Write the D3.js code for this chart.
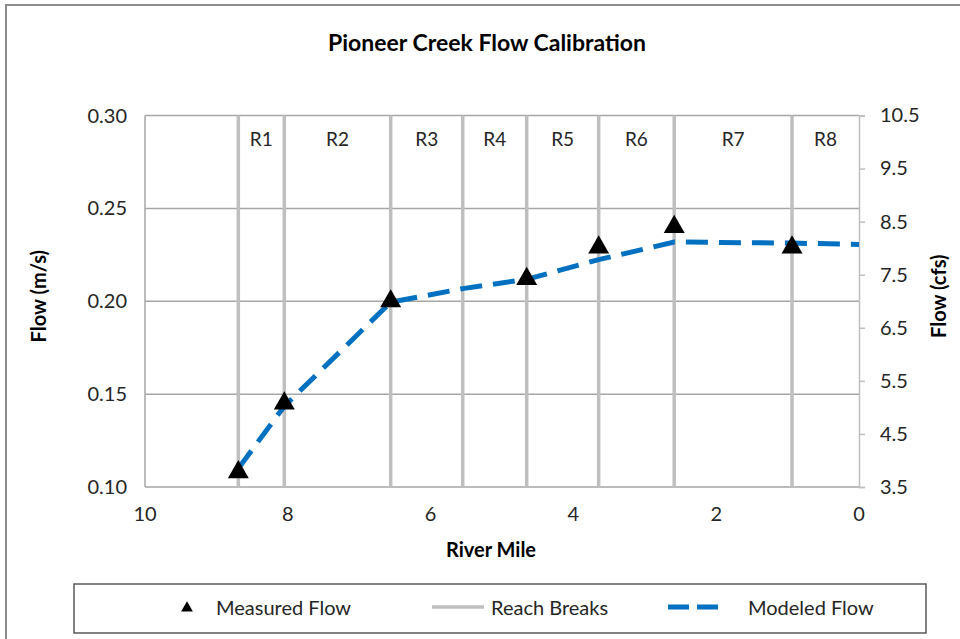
<!DOCTYPE html>
<html>
<head>
<meta charset="utf-8">
<script src="https://cdn.jsdelivr.net/npm/d3@7"></script>
<style>
  body { margin: 0; background: #fff; }
  svg { display: block; }
  text { font-family: Lato, "Open Sans", sans-serif; fill: #262626; }
</style>
</head>
<body>
<svg id="chart" width="960" height="639"></svg>
<script>
// River mile of each reach break
const breakMiles = [8.693, 8.049, 6.559, 5.550, 4.654, 3.646, 2.588, 0.938];
// Reach labels placed between consecutive breaks (last reach runs to mile 0)
const reachNames = ["R1", "R2", "R3", "R4", "R5", "R6", "R7", "R8"];
// Measured flow (m/s) at sampling stations
const measuredMiles = [8.693, 8.049, 6.559, 4.654, 3.646, 2.588, 0.938];
const measuredFlow = [0.108, 0.145, 0.200, 0.212, 0.229, 0.240, 0.229];
// Modeled flow (m/s)
const modeledMiles = [8.693, 8.049, 6.559, 5.550, 4.654, 3.646, 2.588, 0.938, 0];
const modeledFlow = [0.110, 0.1435, 0.1995, 0.2068, 0.2118, 0.2224, 0.2319, 0.2313, 0.2306];
// Axis ticks
const xTicks = [10, 8, 6, 4, 2, 0];
const yTicks = [0.10, 0.15, 0.20, 0.25, 0.30];
const y2Ticks = [3.5, 4.5, 5.5, 6.5, 7.5, 8.5, 9.5, 10.5];

const svg = d3.select("#chart");
const plot = { left: 145, right: 859, top: 115.5, bottom: 487 };

const x = d3.scaleLinear().domain([10, 0]).range([plot.left, plot.right]);
const y = d3.scaleLinear().domain([0.10, 0.30]).range([plot.bottom, plot.top]);
const y2 = d3.scaleLinear().domain([3.5, 10.5]).range([plot.bottom, plot.top]);

// Chart frame (top and left edges visible)
svg.append("line").attr("x1", 5).attr("x2", 960).attr("y1", 5).attr("y2", 5)
  .attr("stroke", "#8c8c8c").attr("stroke-width", 2);
svg.append("line").attr("x1", 6).attr("x2", 6).attr("y1", 4).attr("y2", 639)
  .attr("stroke", "#8c8c8c").attr("stroke-width", 2);

// Title
svg.append("text").attr("x", 487).attr("y", 51).attr("text-anchor", "middle")
  .style("font-size", "23px").style("font-weight", "bold").style("fill", "#000")
  .text("Pioneer Creek Flow Calibration");

// Horizontal gridlines
svg.append("g").selectAll("line").data(yTicks).join("line")
  .attr("x1", plot.left).attr("x2", plot.right)
  .attr("y1", d => y(d)).attr("y2", d => y(d))
  .attr("stroke", "#a6a6a6").attr("stroke-width", 1.5);

// Left plot edge
svg.append("line").attr("x1", plot.left).attr("x2", plot.left)
  .attr("y1", plot.top).attr("y2", plot.bottom)
  .attr("stroke", "#a6a6a6").attr("stroke-width", 1.5);

// Reach break lines
svg.append("g").selectAll("line").data(breakMiles).join("line")
  .attr("x1", d => x(d)).attr("x2", d => x(d))
  .attr("y1", plot.top).attr("y2", plot.bottom)
  .attr("stroke", "#bfbfbf").attr("stroke-width", 3.5);

// Reach labels
const reachBounds = breakMiles.concat([0]);
svg.append("g").selectAll("text").data(reachNames).join("text")
  .attr("x", (d, i) => (x(reachBounds[i]) + x(reachBounds[i + 1])) / 2)
  .attr("y", 146).attr("text-anchor", "middle")
  .style("font-size", "19px").text(d => d);

// Left axis labels
svg.append("g").selectAll("text").data(yTicks).join("text")
  .attr("x", 127).attr("y", d => y(d) + 7).attr("text-anchor", "end")
  .style("font-size", "20px").text(d => d3.format(".2f")(d));

// Right axis with outward ticks
const rightAxis = d3.axisRight(y2).tickValues(y2Ticks).tickSize(6).tickPadding(15)
  .tickFormat(d3.format(".1f"));
const gR = svg.append("g").attr("transform", `translate(${plot.right},0)`).call(rightAxis);
gR.select(".domain").attr("stroke", "#bfbfbf").attr("stroke-width", 1.5);
gR.selectAll(".tick line").attr("stroke", "#bfbfbf").attr("stroke-width", 1.5);
gR.selectAll(".tick text").style("font-size", "20px").style("font-family", "Lato, sans-serif")
  .attr("fill", "#262626");

// Bottom axis labels
svg.append("g").selectAll("text").data(xTicks).join("text")
  .attr("x", d => x(d)).attr("y", 521).attr("text-anchor", "middle")
  .style("font-size", "20px").text(d => d);

// Axis titles
svg.append("text").attr("x", 491).attr("y", 557).attr("text-anchor", "middle")
  .style("font-size", "20px").style("font-weight", "bold").style("fill", "#000")
  .text("River Mile");
svg.append("text").attr("transform", `translate(46,${(plot.top + plot.bottom) / 2 - 5}) rotate(-90)`)
  .attr("text-anchor", "middle")
  .style("font-size", "20px").style("font-weight", "bold").style("fill", "#000")
  .text("Flow (m/s)");
svg.append("text").attr("transform", `translate(946,${(plot.top + plot.bottom) / 2 - 5}) rotate(-90)`)
  .attr("text-anchor", "middle")
  .style("font-size", "20px").style("font-weight", "bold").style("fill", "#000")
  .text("Flow (cfs)");

// Modeled flow dashed line
const modeled = modeledMiles.map((m, i) => [m, modeledFlow[i]]);
svg.append("path").datum(modeled)
  .attr("d", d3.line().x(d => x(d[0])).y(d => y(d[1])))
  .attr("fill", "none").attr("stroke", "#0070c0").attr("stroke-width", 5)
  .attr("stroke-dasharray", "22,11");

// Measured flow triangles
const tri = d3.symbol().type(d3.symbolTriangle).size(190);
svg.append("g").selectAll("path").data(measuredMiles).join("path")
  .attr("transform", (d, i) => `translate(${x(d)},${y(measuredFlow[i])})`)
  .attr("d", tri).attr("fill", "#000");

// Legend
const lg = svg.append("g");
lg.append("rect").attr("x", 74).attr("y", 584).attr("width", 852).attr("height", 49)
  .attr("fill", "#fff").attr("stroke", "#595959").attr("stroke-width", 1.5);
lg.append("path").attr("transform", "translate(187,608)")
  .attr("d", d3.symbol().type(d3.symbolTriangle).size(60)).attr("fill", "#000");
lg.append("text").attr("x", 216).attr("y", 615).style("font-size", "20px").text("Measured Flow");
lg.append("line").attr("x1", 432).attr("x2", 484).attr("y1", 607).attr("y2", 607)
  .attr("stroke", "#bfbfbf").attr("stroke-width", 3.5);
lg.append("text").attr("x", 491).attr("y", 615).style("font-size", "20px").text("Reach Breaks");
lg.append("line").attr("x1", 668).attr("x2", 718).attr("y1", 607).attr("y2", 607)
  .attr("stroke", "#0070c0").attr("stroke-width", 5).attr("stroke-dasharray", "21,8");
lg.append("text").attr("x", 748).attr("y", 615).style("font-size", "20px").text("Modeled Flow");
</script>
</body>
</html>
